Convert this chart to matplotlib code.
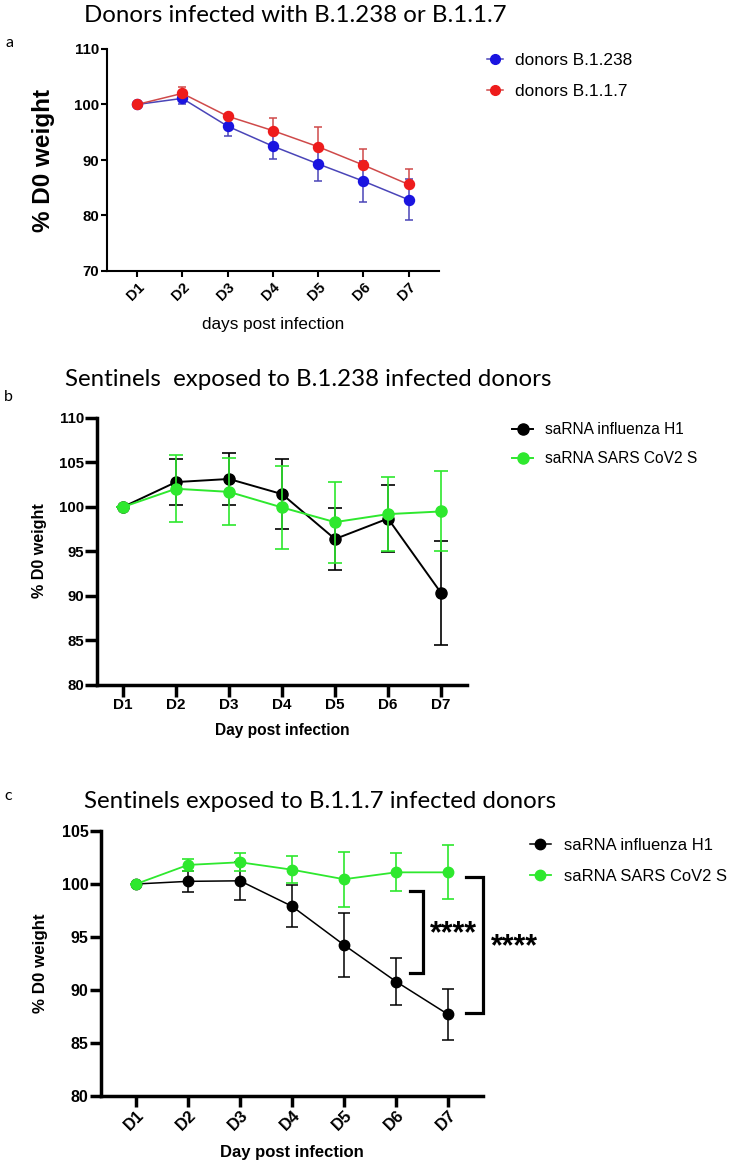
import matplotlib
matplotlib.use('Agg')
import matplotlib.pyplot as plt
from matplotlib.lines import Line2D

W, H = 731, 1163
DPI = 100

days = ['D1', 'D2', 'D3', 'D4', 'D5', 'D6', 'D7']
x = [1, 2, 3, 4, 5, 6, 7]

# Panel a: donors
a_b1238 = [100, 101.1, 96.1, 92.5, 89.3, 86.2, 82.85]
a_b1238_err = [0, 0.95, 1.7, 2.3, 3.1, 3.7, 3.65]
a_b117 = [100, 102.0, 97.9, 95.3, 92.4, 89.1, 85.6]
a_b117_err = [0, 1.1, 0.4, 2.3, 3.6, 2.9, 2.7]

# Panel b: sentinels exposed to B.1.238
b_h1 = [100, 102.8, 103.15, 101.45, 96.4, 98.7, 90.35]
b_h1_err = [0, 2.6, 2.95, 3.95, 3.5, 3.8, 5.85]
b_s = [100, 102.05, 101.7, 99.95, 98.3, 99.2, 99.5]
b_s_err = [0, 3.75, 3.75, 4.7, 4.55, 4.2, 4.5]

# Panel c: sentinels exposed to B.1.1.7
c_h1 = [100, 100.25, 100.3, 97.9, 94.25, 90.8, 87.7]
c_h1_err = [0, 1.0, 1.8, 2.0, 3.05, 2.2, 2.4]
c_s = [100, 101.8, 102.05, 101.35, 100.45, 101.1, 101.1]
c_s_err = [0, 0.55, 0.85, 1.3, 2.6, 1.8, 2.55]

# significance brackets (top, bottom) in % D0 weight
sig_spans = [(99.35, 91.6), (100.65, 87.8)]
sig_labels = ['****', '****']

fig = plt.figure(figsize=(W / DPI, H / DPI), dpi=DPI)

SANS = 'Liberation Sans'
TITLE = 'Lato'


def axes_px(x0, x1, ytop, ybot):
    return fig.add_axes([x0 / W, 1 - ybot / H, (x1 - x0) / W, (ybot - ytop) / H])


def ftext(xp, yp, s, **kw):
    fig.text(xp / W, 1 - yp / H, s, **kw)


def style_axes(ax, lw, tick_len, tick_w):
    for side in ('top', 'right'):
        ax.spines[side].set_visible(False)
    for side in ('left', 'bottom'):
        ax.spines[side].set_linewidth(lw)
    ax.tick_params(axis='both', length=tick_len, width=tick_w, direction='out')


def set_label_px(ax, box, which, xp, yp):
    x0, x1, ytop, ybot = box
    ax_x = (xp - x0) / (x1 - x0)
    ax_y = (ybot - yp) / (ybot - ytop)
    if which == 'y':
        ax.yaxis.set_label_coords(ax_x, ax_y)
    else:
        ax.xaxis.set_label_coords(ax_x, ax_y)


def handle(line_color, face, ms, lw):
    return Line2D([], [], color=line_color, lw=lw, marker='o', ms=ms, mfc=face, mec=face)


# ---------------- Panel a ----------------
box_a = (107, 439, 49, 271)
ax = axes_px(*box_a)
blue, blue_line = '#1a14e0', '#4a45b8'
red, red_line = '#ee1c1c', '#cf4a4a'
ax.errorbar(x, a_b1238, yerr=a_b1238_err, color=blue_line, lw=1.1, elinewidth=1.1,
            capsize=2.8, capthick=1.1, marker='o', ms=7.2, mfc=blue, mec=blue, zorder=3)
ax.errorbar(x, a_b117, yerr=[[0] * 7, a_b117_err], color=red_line, lw=1.1, elinewidth=1.1,
            capsize=2.8, capthick=1.1, marker='o', ms=7.2, mfc=red, mec=red, zorder=4)
ax.set_xlim(0.337, 7.674)
ax.set_ylim(70, 110)
ax.set_yticks([70, 80, 90, 100, 110])
ax.set_xticks(x)
style_axes(ax, 1.5, 4.5, 1.5)
ax.set_yticklabels([str(v) for v in [70, 80, 90, 100, 110]], fontfamily=SANS,
                   fontweight='bold', fontsize=10.8)
ax.set_xticklabels(days, rotation=45, ha='right', va='top', rotation_mode='anchor',
                   fontfamily=SANS, fontweight='bold', fontsize=10.5)
ax.tick_params(axis='y', pad=1)
ax.tick_params(axis='x', pad=2)
ax.set_ylabel('% D0 weight', fontfamily=SANS, fontweight='bold', fontsize=17.5)
set_label_px(ax, box_a, 'y', 55, 160)
ax.set_xlabel('days post infection', fontfamily=SANS, fontsize=12.3, va='center')
set_label_px(ax, box_a, 'x', 273, 325)
ax.legend(handles=[handle(blue_line, blue, 7, 1.1), handle(red_line, red, 7, 1.1)],
          labels=['donors B.1.238', 'donors B.1.1.7'],
          loc='upper left', bbox_to_anchor=(487 / W, 1 - 53 / H),
          bbox_transform=fig.transFigure, frameon=False, borderpad=0,
          borderaxespad=0, handlelength=0.93, handletextpad=0.7,
          labelspacing=0.62 + 0.3, prop={'family': SANS, 'size': 12.4})
ftext(295, 15, 'Donors infected with B.1.238 or B.1.1.7', fontfamily=TITLE,
      fontsize=17.3, ha='center', va='center')
ftext(5, 43, 'a', fontfamily=TITLE, fontsize=11.5, ha='left', va='center')

# ---------------- Panel b ----------------
box_b = (97, 467, 418, 685)
ax = axes_px(*box_b)
green = '#2ee82e'
ax.errorbar(x, b_h1, yerr=b_h1_err, color='black', lw=1.4, elinewidth=1.2,
            capsize=5, capthick=1.2, marker='o', ms=8, mfc='black', mec='black', zorder=3)
ax.errorbar(x, b_s, yerr=b_s_err, color=green, lw=1.4, elinewidth=1.2,
            capsize=5, capthick=1.2, marker='o', ms=8, mfc=green, mec=green, zorder=4)
ax.set_xlim(0.51, 7.49)
ax.set_ylim(80, 110)
ax.set_yticks([80, 85, 90, 95, 100, 105, 110])
ax.set_xticks(x)
style_axes(ax, 2.5, 8.5, 2.5)
ax.set_yticklabels([str(v) for v in [80, 85, 90, 95, 100, 105, 110]], fontfamily=SANS,
                   fontweight='bold', fontsize=10.8)
ax.set_xticklabels(days, fontfamily=SANS, fontweight='bold', fontsize=11)
ax.tick_params(axis='y', pad=1)
ax.tick_params(axis='x', pad=1)
ax.set_ylabel('% D0 weight', fontfamily=SANS, fontweight='bold', fontsize=11.6)
set_label_px(ax, box_b, 'y', 47, 551)
ax.set_xlabel('Day post infection', fontfamily=SANS, fontweight='bold', fontsize=11.2,
              va='center')
set_label_px(ax, box_b, 'x', 282, 730)
ax.legend(handles=[handle('black', 'black', 8, 1.4), handle(green, green, 8, 1.4)],
          labels=['saRNA influenza H1', 'saRNA SARS CoV2 S'],
          loc='upper left', bbox_to_anchor=(512 / W, 1 - 422 / H),
          bbox_transform=fig.transFigure, frameon=False, borderpad=0,
          borderaxespad=0, handlelength=1.35, handletextpad=0.8,
          labelspacing=0.9, prop={'family': SANS, 'size': 11.2})
ftext(65, 380, 'Sentinels  exposed to B.1.238 infected donors', fontfamily=TITLE,
      fontsize=17.3, ha='left', va='center')
ftext(4, 397, 'b', fontfamily=TITLE, fontsize=11.5, ha='left', va='center')

# ---------------- Panel c ----------------
box_c = (101, 483, 831, 1096)
ax = axes_px(*box_c)
ax.errorbar(x, c_h1, yerr=c_h1_err, color='black', lw=1.1, elinewidth=1.1,
            capsize=4.3, capthick=1.1, marker='o', ms=7.5, mfc='black', mec='black', zorder=3)
ax.errorbar(x, c_s, yerr=c_s_err, color=green, lw=1.3, elinewidth=1.2,
            capsize=4.3, capthick=1.2, marker='o', ms=7.5, mfc=green, mec=green, zorder=4)
ax.set_xlim(0.327, 7.673)
ax.set_ylim(80, 105)
ax.set_yticks([80, 85, 90, 95, 100, 105])
ax.set_xticks(x)
style_axes(ax, 2.5, 8, 2.5)
ax.set_yticklabels([str(v) for v in [80, 85, 90, 95, 100, 105]], fontfamily=SANS,
                   fontweight='bold', fontsize=11.5)
ax.set_xticklabels(days, rotation=45, ha='right', va='top', rotation_mode='anchor',
                   fontfamily=SANS, fontweight='bold', fontsize=12)
ax.tick_params(axis='y', pad=1)
ax.tick_params(axis='x', pad=0)
ax.set_ylabel('% D0 weight', fontfamily=SANS, fontweight='bold', fontsize=12.2)
set_label_px(ax, box_c, 'y', 48, 963)
ax.set_xlabel('Day post infection', fontfamily=SANS, fontweight='bold', fontsize=12,
              va='center')
set_label_px(ax, box_c, 'x', 292, 1153)
ax.legend(handles=[handle('black', 'black', 7.5, 1.1), handle(green, green, 7.5, 1.3)],
          labels=['saRNA influenza H1', 'saRNA SARS CoV2 S'],
          loc='upper left', bbox_to_anchor=(530 / W, 1 - 838 / H),
          bbox_transform=fig.transFigure, frameon=False, borderpad=0,
          borderaxespad=0, handlelength=1.25, handletextpad=0.8,
          labelspacing=0.95, prop={'family': SANS, 'size': 11.9})
# significance brackets
br_x = [(6.27, 6.52), (7.35, 7.67)]
star_x = [7.1, 8.27]
for (top, bot), (xa, xb), sx, lab in zip(sig_spans, br_x, star_x, sig_labels):
    ax.plot([xa, xb, xb, xa], [top, top, bot, bot], color='black', lw=2.3,
            clip_on=False, solid_joinstyle='miter')
    ax.text(sx, (top + bot) / 2 - 0.2, lab, fontfamily=SANS, fontweight='bold', fontsize=22,
            ha='center', va='center', clip_on=False)
ftext(84, 802, 'Sentinels exposed to B.1.1.7 infected donors', fontfamily=TITLE,
      fontsize=17.3, ha='left', va='center')
ftext(4, 796, 'c', fontfamily=TITLE, fontsize=11.5, ha='left', va='center')

fig.savefig('out.png', dpi=DPI)
